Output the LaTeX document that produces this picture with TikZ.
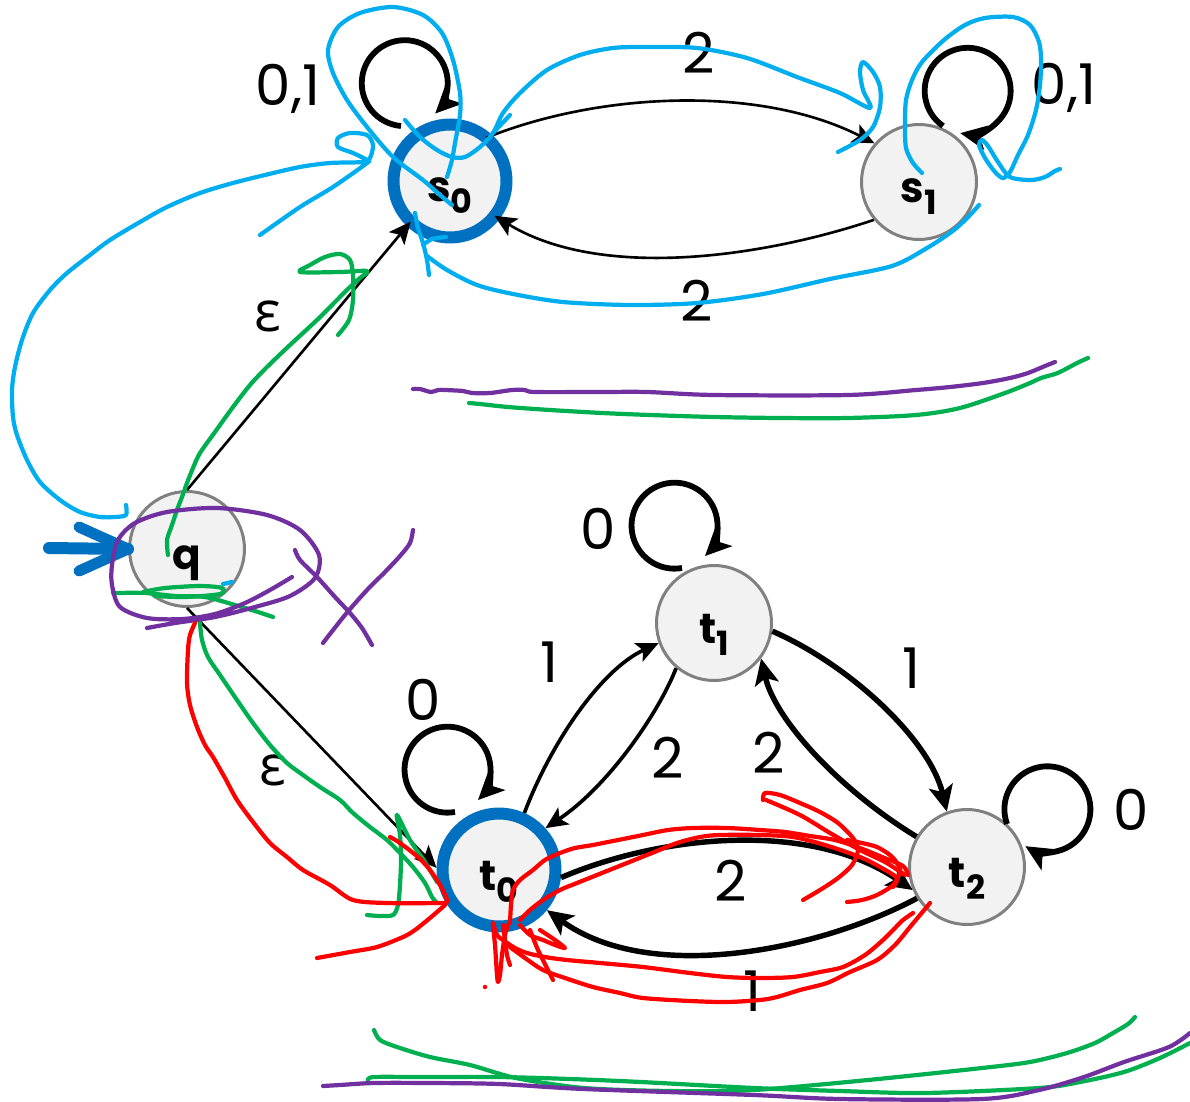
\documentclass[tikz,border=0pt]{standalone}
\usepackage{fontspec}
\setmainfont{Poppins}
\newfontfamily\gkfont{Open Sans}
\usetikzlibrary{arrows.meta}
\definecolor{nodeblue}{HTML}{0070C0}
\definecolor{cyanink}{HTML}{00AEEF}
\definecolor{greenink}{HTML}{00B050}
\definecolor{purpleink}{HTML}{7030A0}
\definecolor{redink}{HTML}{FF0000}
\definecolor{nodefill}{HTML}{F2F2F2}
\definecolor{nodegray}{HTML}{808080}
\newcommand\stlab[2]{#1\raisebox{-6.8pt}{\fontsize{19}{19}\selectfont #2}}
\begin{document}
\begin{tikzpicture}[x=0.02cm,y=-0.02cm,
  stnode/.style={circle,draw=nodegray,fill=nodefill,line width=1.7pt,minimum size=2.3cm,inner sep=0pt,
    font=\fontsize{24}{24}\selectfont\bfseries,text height=30pt,text depth=7pt},
  acnode/.style={stnode,draw=nodeblue,line width=0.24cm,minimum size=2.26cm},
  elab/.style={inner sep=0pt,font=\fontsize{32}{32}\selectfont},
  glab/.style={inner sep=0pt,font=\fontsize{32}{32}\selectfont\gkfont},
  thintip/.style={-{Stealth[length=0.44cm,width=0.4cm,inset=0.1cm]}},
  thicktip/.style={-{Stealth[length=0.52cm,width=0.48cm,inset=0.12cm]}},
  thinedge/.style={line width=1.5pt,thintip},
  midedge/.style={line width=2.1pt,thintip},
  thickedge/.style={line width=3.1pt,thicktip},
  loopedge/.style={line width=3.3pt,thicktip},
  scrib/.style={line width=2.4pt,line cap=round,line join=round},
  initarrow/.style={draw=nodeblue,line width=0.24cm,line cap=round,line join=round}
]
\useasboundingbox (0,0) rectangle (1190,1102);

% ---------- states ----------
\node[acnode,outer sep=0pt] (s0) at (450,181) {\stlab{s}{0}};
\node[stnode] (s1) at (919,182) {\stlab{s}{1}};
\node[stnode] (q) at (187,549) {q};
\node[stnode] (t1) at (714,623) {\stlab{t}{1}};
\node[acnode] (t0) at (499,870) {\stlab{t}{0}};
\node[stnode] (t2) at (967,867) {\stlab{t}{2}};

% ---------- initial arrow ----------
\coordinate (init) at (49,548);
\draw[initarrow] (init) -- (q.west);
\draw[initarrow,line width=0.22cm] (79,527) -- (q.west) -- (79,571);

% ---------- edges ----------
\draw[thinedge] (s0.50) .. controls (600,92) and (760,85) .. (s1.139);
\draw[thinedge] (s1.220) .. controls (760,258) and (600,280) .. (s0.-38);
\draw[thinedge] (q.north) -- (s0.226);
\draw[thinedge] (q.south) -- (t0.178);
\draw[loopedge] ([shift={(-49,-55)}]s0.center) arc[start angle=265,end angle=-45,radius=0.86cm];
\draw[loopedge] ([shift={(24,-56)}]s1.center) arc[start angle=235,end angle=-100,radius=0.86cm];

\draw[midedge] (t0.66) .. controls (550,745) and (600,670) .. (t1.200);
\draw[midedge] (t1.230) .. controls (660,710) and (610,785) .. (t0.42);
\draw[thickedge] (t1.-8) .. controls (850,665) and (930,740) .. (t2.110);
\draw[thickedge] (t2.149) .. controls (840,790) and (775,720) .. (t1.-37);
\draw[thickedge] (t0.-7) .. controls (660,835) and (810,820) .. (t2.203);
\draw[thickedge] (t2.212) .. controls (820,950) and (650,985) .. (t0.-40);
\draw[loopedge] ([shift={(-44,-58)}]t0.center) arc[start angle=280,end angle=-45,radius=0.86cm];
\draw[loopedge] ([shift={(-32,-55)}]t1.center) arc[start angle=280,end angle=-45,radius=0.86cm];
\draw[loopedge] ([shift={(40,-43)}]t2.center) arc[start angle=200,end angle=-121,radius=0.86cm];

% ---------- labels ----------
\node[elab] (ls0) at (288,89) {0,1};
\node[elab] (ls1) at (1064,88) {0,1};
\node[elab] (l01) at (699,53) {2};
\node[elab] (l10) at (697,301) {2};
\node[glab] (lqs) at (268,316) {ε};
\node[glab] (lqt) at (273,770) {ε};
\node[elab] (lt0) at (423,700) {0};
\node[elab] (lt01) at (549,662) {1};
\node[elab] (lt10) at (668,758) {2};
\node[elab] (lt1) at (598,529) {0};
\node[elab] (lt21) at (769,753) {2};
\node[elab] (lt12) at (911,668) {1};
\node[elab] (lt2) at (1131,810) {0};
\node[elab] (lt02) at (731,881) {2};
\node[elab] (lt20) at (752,991) {1};

% ---------- cyan ink ----------
\begin{scope}[cyanink]
\draw[scrib] plot[smooth,tension=0.5] coordinates {(126,505)(126,515)(115,517)(100,517)(80,512)(60,500)(40,482)(27,460)(17,435)(13,417)(12,390)(15,367)(22,340)(33,313)(50,290)(67,273)(90,255)(110,240)(140,222)(167,207)(200,193)(233,183)(265,175)(300,167)(330,163)(363,162)(370,158)(373,145)(367,135)(350,133)(338,138)(338,147)(353,153)(367,160)(367,163)(333,187)(300,207)(260,235)};
\draw[scrib] plot[smooth,tension=0.5] coordinates {(452,205)(440,195)(423,180)(393,157)(367,127)(347,100)(333,73)(328,50)(338,27)(360,13)(393,7)(423,15)(442,33)(453,60)(460,93)(460,115)(455,143)(452,160)(447,177)};
\draw[scrib] plot[smooth,tension=0.5] coordinates {(405,120)(420,137)(437,150)(452,157)(465,157)(480,147)(493,133)(503,113)(520,93)(547,70)(580,55)(613,48)(647,47)(697,48)(747,58)(797,77)(840,93)(870,108)(863,90)(860,72)(863,62)(873,72)(880,87)(880,107)(873,127)(860,140)(838,152)};
\draw[scrib] (493,133) -- (510,115);
\draw[scrib] plot[smooth,tension=0.5] coordinates {(415,213)(418,228)(423,243)(427,260)(429,275)};
\draw[scrib] plot[smooth,tension=0.5] coordinates {(423,245)(432,239)(446,237)};
\draw[scrib] plot[smooth,tension=0.5] coordinates {(427,256)(447,270)(477,285)(513,294)(563,302)(630,305)(697,303)(763,294)(830,279)(892,266)(927,248)(954,230)(970,215)(979,205)};
\draw[scrib] plot[smooth,tension=0.5] coordinates {(922,173)(913,163)(906,148)(905,125)(906,100)(912,80)(922,62)(944,40)(965,25)(985,18)(1013,17)(1030,25)(1039,42)(1041,60)(1040,85)(1036,110)(1028,135)(1018,155)(1010,172)(1003,178)(995,172)(985,158)(979,145)(982,140)(988,146)(998,162)(1010,177)(1031,180)(1045,177)(1055,171)(1060,169)};
\draw[scrib] (223,584) -- (232,582);
\end{scope}

% ---------- green ink ----------
\begin{scope}[greenink]
\draw[scrib] plot[smooth,tension=0.5] coordinates {(168,555)(167,540)(172,525)(177,510)(182,497)(187,483)(193,468)(200,453)(215,432)(233,407)(250,385)(267,367)(290,345)(317,320)(335,302)(350,287)(360,278)(367,271)(340,272)(300,272)(310,265)(325,257)(340,254)(350,260)(353,275)(353,300)(349,320)(338,335)};
\draw[scrib] plot[smooth,tension=0.5] coordinates {(113,593)(145,593)(175,596)(205,597)(235,605)(258,612)(273,617)};
\draw[scrib] plot[smooth,tension=0.5] coordinates {(143,592)(165,588)(200,586)(222,588)(220,594)(185,597)(155,596)};
\draw[scrib] plot[smooth,tension=0.5] coordinates {(200,623)(202,640)(208,657)(220,675)(237,700)(253,723)(270,745)(287,763)(303,775)(320,787)(340,800)(353,813)(370,827)(387,840)(400,853)(413,867)(425,883)(432,897)(437,903)};
\draw[scrib] plot[smooth,tension=0.5] coordinates {(437,882)(425,862)(410,840)(397,815)(400,835)(401,860)(400,885)(398,905)(393,915)(380,916)(367,915)};
\draw[scrib] plot[smooth,tension=0.5] coordinates {(469,403)(480,404)(508,407)(550,410)(602,413)(650,415)(714,417)(780,418)(848,418)(916,415)(960,408)(1005,393)(1030,383)(1041,378)(1055,374)(1064,370)(1077,363)(1088,358)};
\draw[scrib] plot[smooth,tension=0.5] coordinates {(374,1030)(380,1040)(397,1047)(430,1057)(470,1065)(516,1078)(584,1088)(670,1091)(754,1090)(868,1080)(982,1068)(1030,1062)(1067,1053)(1095,1043)(1113,1033)(1128,1024)(1135,1017)};
\draw[scrib] plot[smooth,tension=0.5] coordinates {(368,1080)(374,1077)(420,1077)(499,1077)(570,1079)(641,1082)(754,1088)(840,1091)(925,1093)(1039,1088)(1080,1082)(1124,1072)(1160,1058)(1190,1043)};
\end{scope}

% ---------- purple ink ----------
\begin{scope}[purpleink]
\draw[scrib] plot[smooth,tension=0.5] coordinates {(413,389)(420,389)(431,392)(438,390)(445,390)(463,391)(472,393)(490,393)(512,390)(525,390)(535,392)(600,392)(647,392)(714,395)(848,395)(916,390)(950,387)(983,383)(1010,378)(1028,373)(1045,366)(1055,362)};
\draw[scrib] plot[smooth,tension=0.5] coordinates {(323,1086)(340,1085)(374,1083)(430,1083)(499,1084)(584,1089)(754,1095)(840,1099)(982,1099)(1039,1090)(1084,1077)(1124,1062)(1169,1047)(1190,1033)};
\draw[scrib] plot[smooth,tension=0.5] coordinates {(292,577)(270,590)(245,603)(215,614)(183,619)(147,618)(120,607)(112,585)(112,565)(118,540)(135,523)(167,512)(217,508)(267,515)(300,530)(319,555)(315,578)(290,596)(255,607)(215,617)(175,623)(147,628)};
\draw[scrib] plot[smooth,tension=0.5] coordinates {(295,550)(300,560)(317,577)(335,597)(350,613)(362,628)(372,645)};
\draw[scrib] plot[smooth,tension=0.5] coordinates {(413,530)(410,543)(400,556)(385,572)(367,590)(345,615)(323,643)};
\end{scope}

% ---------- red ink ----------
\begin{scope}[redink]
\draw[scrib] plot[smooth,tension=0.5] coordinates {(195,623)(190,635)(188,650)(187,683)(190,705)(197,727)(205,745)(213,757)(225,778)(237,800)(253,822)(270,843)(287,857)(303,870)(330,885)(353,900)(387,903)(437,903)(447,902)(445,895)(440,885)(430,870)(418,857)(400,843)(390,837)};
\draw[scrib] plot[smooth,tension=0.5] coordinates {(445,905)(437,912)(430,918)(415,930)(403,937)(377,947)(350,952)(317,958)};
\draw[scrib] plot[smooth,tension=0.5] coordinates {(510,923)(511,905)(513,890)(520,880)(533,870)(545,860)(560,853)(575,848)(593,845)(618,840)(643,835)(668,830)(693,828)(727,828)(760,830)(785,832)(810,836)(835,840)(860,848)(882,857)(903,866)(908,875)};
\draw[scrib] plot[smooth,tension=0.5] coordinates {(520,920)(530,910)(543,900)(560,890)(577,883)(602,873)(627,863)(652,853)(677,843)(700,837)(720,835)(760,835)(793,837)(825,845)(860,857)(880,867)(897,878)(893,887)};
\draw[scrib] plot[smooth,tension=0.5] coordinates {(763,800)(765,793)(780,795)(800,803)(820,812)(838,823)(853,838)(858,850)(852,865)(838,878)(820,890)(803,900)};
\draw[scrib] plot[smooth,tension=0.5] coordinates {(766,800)(800,815)(830,833)(860,850)(885,862)(905,875)};
\draw[scrib] plot[smooth,tension=0.5] coordinates {(847,840)(862,843)(877,847)(890,855)(897,863)(900,872)(893,885)(877,895)(862,900)(847,902)};
\draw[scrib] plot[smooth,tension=0.5] coordinates {(493,923)(497,935)(503,940)(515,948)(527,953)(545,957)(567,960)(600,963)(643,967)(690,973)(727,977)(760,978)(793,977)(820,972)(843,967)(865,955)(883,940)(895,928)(903,920)(913,913)};
\draw[scrib] plot[smooth,tension=0.5] coordinates {(510,947)(525,958)(543,970)(565,978)(593,987)(620,993)(643,998)(690,1001)(727,1002)(760,1000)(777,997)(800,990)(827,983)(850,972)(877,960)(895,945)(910,927)(920,915)(930,903)};
\draw[scrib] plot[smooth,tension=0.5] coordinates {(493,925)(495,945)(496,960)(497,975)(498,982)(500,975)(502,955)(505,935)(508,925)};
\draw[scrib] plot[smooth,tension=0.5] coordinates {(503,925)(505,940)(507,955)(510,965)};
\draw[scrib] plot[smooth,tension=0.5] coordinates {(520,925)(530,935)(543,940)(555,945)(565,948)(555,940)(540,930)};
\draw[scrib] plot[smooth,tension=0.5] coordinates {(530,930)(538,950)(548,970)(553,980)};
\fill (485,987) circle[radius=0.045cm];
\end{scope}
\end{tikzpicture}
\end{document}
